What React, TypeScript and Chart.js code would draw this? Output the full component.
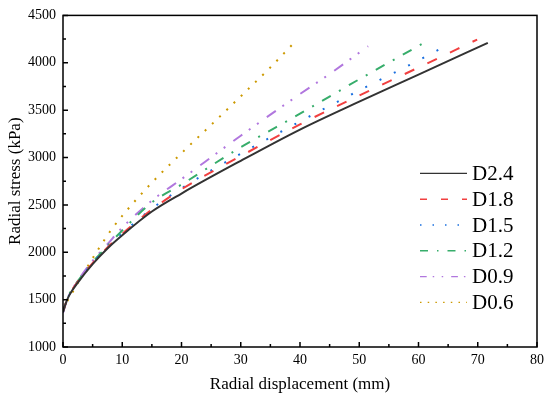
import React, { useEffect, useRef } from "react";
import { Chart, registerables } from "chart.js";

Chart.register(...registerables);

// ---- data ----
const seriesLabels = ["D2.4", "D1.8", "D1.5", "D1.2", "D0.9", "D0.6"];

const xD24 = [0, 0.5, 1, 2.5, 5, 7.5, 10, 15, 20, 30, 40, 50, 60, 71.7];
const yD24 = [1370, 1465, 1540, 1680, 1875, 2040, 2180, 2430, 2620, 2965, 3295, 3590, 3875, 4210];

const xD18 = [0, 0.5, 1, 2.5, 5, 7.5, 10, 15, 20, 30, 40, 50, 60, 69.9];
const yD18 = [1370, 1468, 1545, 1690, 1885, 2050, 2195, 2450, 2665, 3015, 3350, 3655, 3950, 4245];

const xD15 = [0, 0.5, 1, 2.5, 5, 7.5, 10, 15, 20, 30, 40, 50, 60, 63.9];
const yD15 = [1370, 1468, 1545, 1690, 1885, 2055, 2200, 2460, 2675, 3040, 3380, 3708, 4025, 4154];

const xD12 = [0, 0.5, 1, 2.5, 5, 7.5, 10, 15, 20, 30, 40, 50, 60.6];
const yD12 = [1370, 1470, 1550, 1695, 1895, 2065, 2230, 2525, 2715, 3108, 3462, 3826, 4199];

const xD09 = [0, 0.5, 1, 2.5, 5, 7.5, 10, 15, 20, 30, 40, 45.3, 51.5];
const yD09 = [1360, 1462, 1545, 1700, 1910, 2085, 2260, 2545, 2772, 3230, 3670, 3895, 4175];

const xD06 = [0, 0.6, 1.3, 3, 5.6, 8.3, 10.3, 14.7, 20.6, 25.4, 30.2, 34.9, 38.6];
const yD06 = [1390, 1470, 1545, 1730, 1996, 2250, 2407, 2715, 3082, 3368, 3658, 3945, 4185];

const xSeries = [xD24, xD18, xD15, xD12, xD09, xD06];
const ySeries = [yD24, yD18, yD15, yD12, yD09, yD06];

// axis ticks
const xMin = 0, xMax = 80, xMajor = 10, xMinor = 5;
const yMin = 1000, yMax = 4500, yMajor = 500, yMinor = 250;

// ---- styles ----
const colors = ["#333333", "#F14040", "#1A6FDF", "#37AD6B", "#B177DE", "#CC9900"];
const plotDash = [[], [10.5, 14.5], [2, 14], [10, 9.5, 2, 9.5], [11, 8, 2, 8, 2, 10], [2, 8]];
const legendDash = [[], [7, 14], [1.5, 11], [8, 9, 1.5, 9], [6.7, 6, 1.5, 7.5, 1.5, 8], [1.5, 6.2]];

const SERIF = "'Liberation Serif', 'Times New Roman', serif";

const framePlugin = {
  id: "frameTicksLegend",
  afterDraw(chart: any) {
    const { ctx, chartArea } = chart;
    const { left, right, top, bottom } = chartArea;
    const xs = chart.scales.x;
    const ys = chart.scales.y;
    ctx.save();
    ctx.strokeStyle = "#000";
    ctx.lineWidth = 1.5;
    ctx.setLineDash([]);
    ctx.beginPath();
    for (let v = xMin; v <= xMax + 1e-9; v += xMinor) {
      const px = xs.getPixelForValue(v);
      const len = Math.abs(v % xMajor) < 1e-9 ? 5 : 3;
      ctx.moveTo(px, bottom);
      ctx.lineTo(px, bottom - len);
    }
    for (let v = yMin; v <= yMax + 1e-9; v += yMinor) {
      const py = ys.getPixelForValue(v);
      const len = Math.abs(v % yMajor) < 1e-9 ? 5 : 3;
      ctx.moveTo(left, py);
      ctx.lineTo(left + len, py);
    }
    ctx.stroke();
    ctx.strokeRect(left, top, right - left, bottom - top);

    // legend
    const x0 = right - 117;
    const x1 = right - 70;
    const tx = right - 65;
    let ry = top + 158;
    ctx.font = `21px ${SERIF}`;
    ctx.textBaseline = "middle";
    ctx.textAlign = "left";
    chart.data.datasets.forEach((ds: any, i: number) => {
      ctx.strokeStyle = ds.borderColor;
      ctx.lineWidth = 1.4;
      ctx.setLineDash(legendDash[i]);
      ctx.beginPath();
      ctx.moveTo(x0, ry);
      ctx.lineTo(x1, ry);
      ctx.stroke();
      ctx.setLineDash([]);
      ctx.fillStyle = "#000";
      ctx.fillText(ds.label, tx, ry + 1);
      ry += 25.8;
    });
    ctx.restore();
  },
};

export default function App() {
  const canvasRef = useRef<HTMLCanvasElement | null>(null);

  useEffect(() => {
    if (!canvasRef.current) return;
    const datasets = seriesLabels.map((label, i) => ({
      label,
      data: xSeries[i].map((x, j) => ({ x, y: ySeries[i][j] })),
      borderColor: colors[i],
      backgroundColor: colors[i],
      borderWidth: 2,
      borderDash: plotDash[i],
      pointRadius: 0,
      fill: false,
      cubicInterpolationMode: "monotone" as const,
    }));

    const chart = new Chart(canvasRef.current, {
      type: "line",
      data: { datasets },
      plugins: [framePlugin],
      options: {
        animation: false,
        responsive: false,
        layout: { padding: { top: 13, right: 13, left: 0, bottom: 0 } },
        plugins: {
          legend: { display: false },
          tooltip: { enabled: false },
        },
        scales: {
          x: {
            type: "linear",
            min: xMin,
            max: xMax,
            grid: { display: false, drawTicks: false },
            border: { display: false },
            ticks: {
              stepSize: xMajor,
              autoSkip: false,
              maxRotation: 0,
              padding: 5,
              color: "#000",
              font: { family: SERIF, size: 14 },
              callback: (v: any) => String(v),
            },
            title: {
              display: true,
              text: "Radial displacement (mm)",
              color: "#000",
              font: { family: SERIF, size: 17 },
              padding: { top: 0, bottom: 7 },
            },
            afterFit: (scale: any) => {
              scale.height = 55;
            },
          },
          y: {
            type: "linear",
            min: yMin,
            max: yMax,
            grid: { display: false, drawTicks: false },
            border: { display: false },
            ticks: {
              stepSize: yMajor,
              autoSkip: false,
              padding: 7,
              color: "#000",
              font: { family: SERIF, size: 14 },
              callback: (v: any) => String(v),
            },
            title: {
              display: true,
              text: "Radial stress (kPa)",
              color: "#000",
              font: { family: SERIF, size: 17 },
              padding: { top: 5, bottom: 0 },
            },
            afterFit: (scale: any) => {
              scale.width = 63;
            },
          },
        },
      },
    });
    return () => chart.destroy();
  }, []);

  return (
    <div style={{ position: "absolute", left: 0, top: 0, width: 550, height: 402, background: "#fff" }}>
      <canvas ref={canvasRef} width={550} height={402} style={{ display: "block" }} />
    </div>
  );
}
